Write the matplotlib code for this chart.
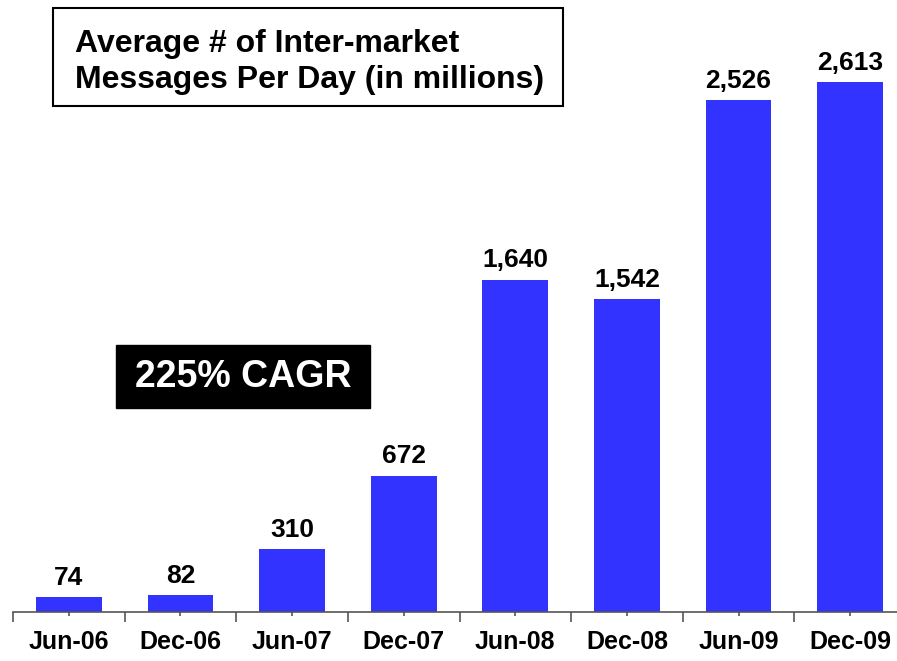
import matplotlib
matplotlib.use("Agg")
import matplotlib.pyplot as plt
from matplotlib.patches import Rectangle

periods = ["Jun-06", "Dec-06", "Jun-07", "Dec-07", "Jun-08", "Dec-08", "Jun-09", "Dec-09"]
messages = [74, 82, 310, 672, 1640, 1542, 2526, 2613]
title_lines = ["Average # of Inter-market", "Messages Per Day (in millions)"]
cagr_label = "225% CAGR"

plt.rcParams['font.family'] = ['Liberation Sans', 'DejaVu Sans']


def main():
    fig = plt.figure(figsize=(8.97, 6.61), dpi=100)
    ax = fig.add_axes([13 / 897, 49 / 661, 893 / 897, 608 / 661])

    x = list(range(len(periods)))
    ax.bar(x, messages, width=0.59, color="#3333FF", zorder=2)

    for xi, v in zip(x, messages):
        ax.annotate("{:,}".format(v), (xi, v), xytext=(0, 9), textcoords="offset points",
                    ha="center", va="baseline", fontsize=19, fontweight="bold")

    ax.set_xlim(-0.5, len(periods) - 0.5)
    ax.set_ylim(0, 3000)

    for side in ("left", "right", "top"):
        ax.spines[side].set_visible(False)
    ax.spines["bottom"].set_color("#555555")
    ax.spines["bottom"].set_linewidth(1.2)

    ax.set_yticks([])
    ax.set_xticks(x)
    ax.set_xticklabels(periods, fontsize=18, fontweight="bold")
    ax.set_xticks([i - 0.5 for i in range(len(periods) + 1)], minor=True)
    ax.tick_params(axis="x", which="major", length=3, width=1.2, color="#555555", pad=10)
    ax.tick_params(axis="x", which="minor", length=7, width=1.2, color="#555555")

    # title box
    fig.add_artist(Rectangle((53 / 897, 555 / 661), 510 / 897, 98 / 661,
                             transform=fig.transFigure, facecolor="white",
                             edgecolor="black", linewidth=1.5))
    fig.text(75 / 897, 599 / 661, "\n".join(title_lines), fontsize=23, fontweight="bold",
             ha="left", va="center", linespacing=1.28)

    # CAGR box
    fig.add_artist(Rectangle((116 / 897, 253 / 661), 254 / 897, 63 / 661,
                             transform=fig.transFigure, facecolor="black",
                             edgecolor="black"))
    fig.text(243 / 897, 284 / 661, cagr_label, fontsize=27, fontweight="bold",
             color="white", ha="center", va="center")

    fig.savefig("out.png", dpi=100)


if __name__ == '__main__':
    main()
